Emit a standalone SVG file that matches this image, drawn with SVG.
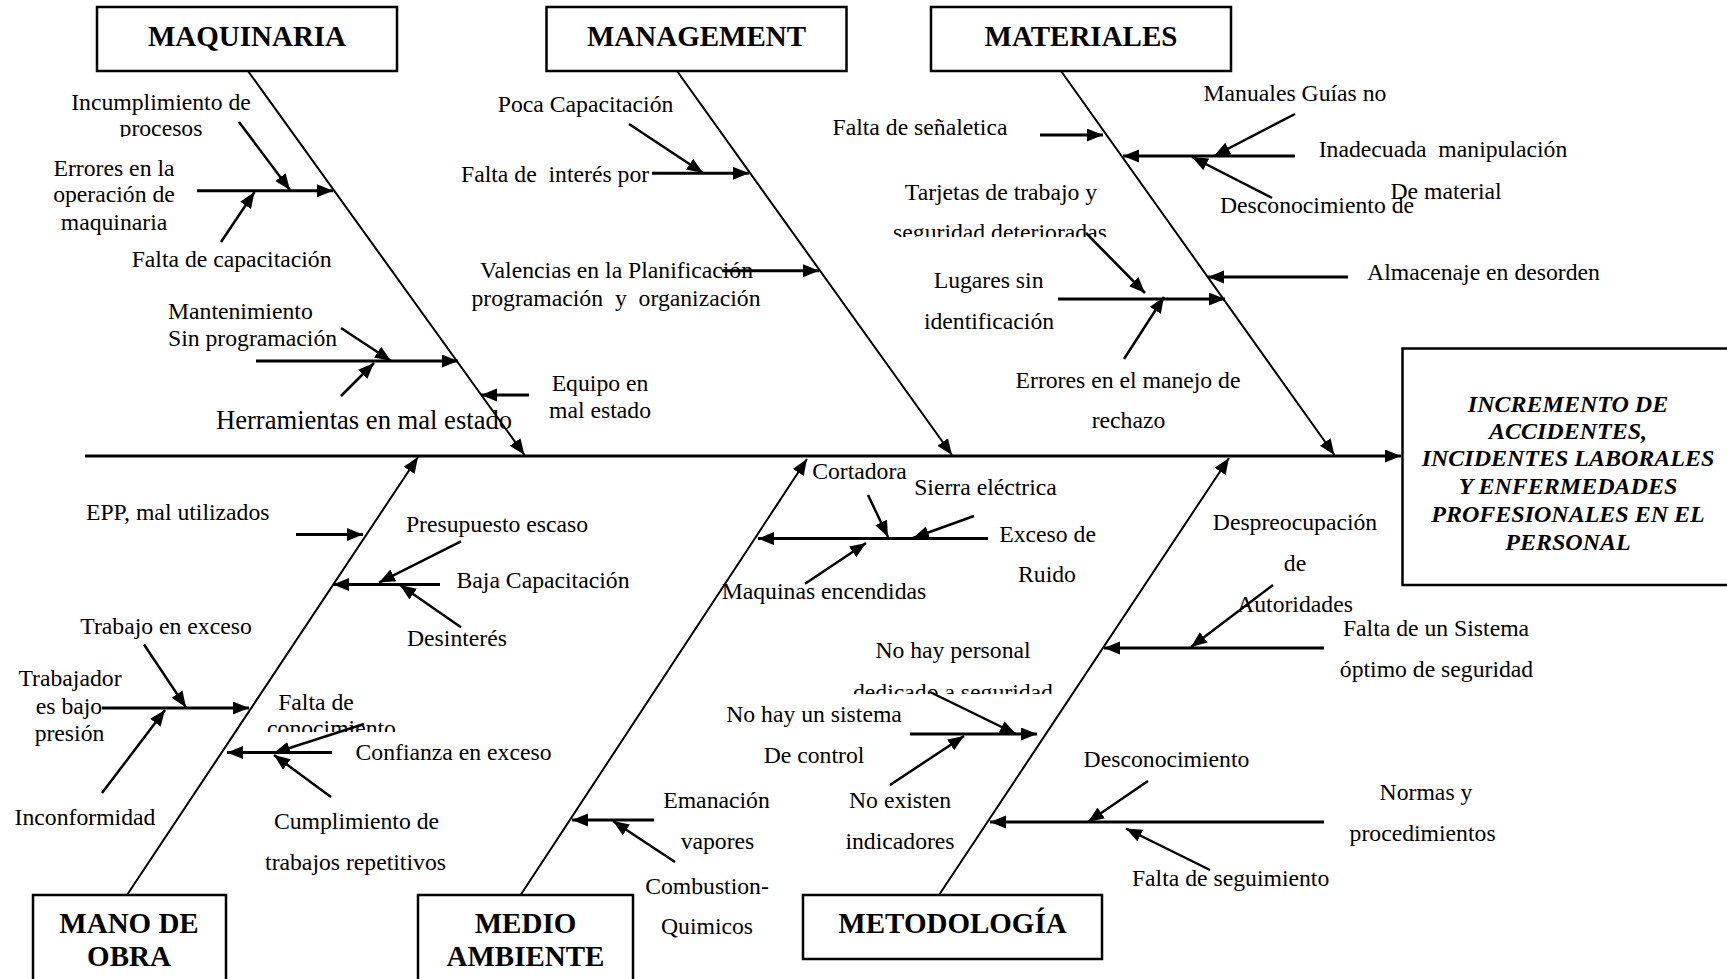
<svg xmlns="http://www.w3.org/2000/svg" width="1727" height="979" viewBox="0 0 1727 979">
<style>
.bx{fill:#fff;stroke:#000;stroke-width:2.5}
.hd{font-family:"Liberation Serif","Times New Roman",serif;font-weight:bold;font-size:29px;text-anchor:middle;fill:#000}
.ef{font-family:"Liberation Serif","Times New Roman",serif;font-weight:bold;font-style:italic;font-size:24px;text-anchor:middle;fill:#000}
.t{font-family:"Liberation Serif","Times New Roman",serif;font-size:23.7px;text-anchor:middle;fill:#000;white-space:pre}
.s{text-anchor:start}
.bone{stroke:#000;stroke-width:2;fill:none}
.br{stroke:#000;stroke-width:3;fill:none}
.sm{stroke:#000;stroke-width:2.5;fill:none}
</style>
<defs>
<marker id="ah" markerUnits="userSpaceOnUse" markerWidth="17" markerHeight="14" refX="16" refY="6.5" orient="auto">
<path d="M0,0 L16,6.5 L0,13 Z" fill="#000"/>
</marker>
<clipPath id="c1"><rect x="0" y="100" width="400" height="37"/></clipPath>
<clipPath id="c2"><rect x="850" y="200" width="300" height="37"/></clipPath>
<clipPath id="c3"><rect x="200" y="700" width="250" height="32"/></clipPath>
<clipPath id="c4"><rect x="800" y="660" width="300" height="34"/></clipPath>
</defs>
<rect width="1727" height="979" fill="#fff"/>

<g id="connectors">
<line class="br" x1="85" y1="456" x2="1401" y2="456" marker-end="url(#ah)"/>
<line class="bone" x1="248" y1="71" x2="524.5" y2="455" marker-end="url(#ah)"/>
<line class="bone" x1="677" y1="71" x2="952" y2="455" marker-end="url(#ah)"/>
<line class="bone" x1="1061" y1="71" x2="1334.5" y2="455" marker-end="url(#ah)"/>
<line class="bone" x1="127" y1="895" x2="418" y2="457" marker-end="url(#ah)"/>
<line class="bone" x1="520.6" y1="895" x2="807" y2="459" marker-end="url(#ah)"/>
<line class="bone" x1="939" y1="895" x2="1229" y2="458" marker-end="url(#ah)"/>

<line class="sm" x1="239" y1="122" x2="290" y2="190" marker-end="url(#ah)"/>
<line class="br" x1="197" y1="190.7" x2="333" y2="190.7" marker-end="url(#ah)"/>
<line class="sm" x1="221" y1="242" x2="254.5" y2="192" marker-end="url(#ah)"/>
<line class="sm" x1="341" y1="328" x2="391" y2="361" marker-end="url(#ah)"/>
<line class="br" x1="256" y1="361" x2="458" y2="361" marker-end="url(#ah)"/>
<line class="sm" x1="341" y1="396" x2="374" y2="363" marker-end="url(#ah)"/>
<line class="br" x1="529" y1="395" x2="481" y2="395" marker-end="url(#ah)"/>

<line class="sm" x1="629" y1="124" x2="703" y2="173" marker-end="url(#ah)"/>
<line class="br" x1="652" y1="173.3" x2="749" y2="173.3" marker-end="url(#ah)"/>
<line class="br" x1="722" y1="270.7" x2="819" y2="270.7" marker-end="url(#ah)"/>

<line class="br" x1="1040" y1="135" x2="1103" y2="135" marker-end="url(#ah)"/>
<line class="sm" x1="1295" y1="114" x2="1214" y2="156" marker-end="url(#ah)"/>
<line class="br" x1="1295" y1="156" x2="1123" y2="156" marker-end="url(#ah)"/>
<line class="sm" x1="1272" y1="198" x2="1192" y2="157" marker-end="url(#ah)"/>
<line class="sm" x1="1086" y1="233" x2="1145" y2="293" marker-end="url(#ah)"/>
<line class="br" x1="1058" y1="299" x2="1225" y2="299" marker-end="url(#ah)"/>
<line class="sm" x1="1124" y1="359" x2="1164" y2="297" marker-end="url(#ah)"/>
<line class="br" x1="1348" y1="277" x2="1208" y2="277" marker-end="url(#ah)"/>

<line class="br" x1="296" y1="534.5" x2="363" y2="534.5" marker-end="url(#ah)"/>
<line class="sm" x1="461" y1="541.4" x2="379" y2="582.6" marker-end="url(#ah)"/>
<line class="br" x1="440" y1="584.4" x2="333" y2="584.4" marker-end="url(#ah)"/>
<line class="sm" x1="461" y1="627.3" x2="400" y2="585" marker-end="url(#ah)"/>
<line class="sm" x1="144" y1="644.5" x2="186" y2="707.4" marker-end="url(#ah)"/>
<line class="br" x1="102" y1="708" x2="249" y2="708" marker-end="url(#ah)"/>
<line class="sm" x1="102" y1="793" x2="165" y2="710" marker-end="url(#ah)"/>
<line class="sm" x1="364" y1="724" x2="274" y2="753" marker-end="url(#ah)"/>
<line class="br" x1="332" y1="752.5" x2="227" y2="752.5" marker-end="url(#ah)"/>
<line class="sm" x1="331" y1="797" x2="274" y2="755" marker-end="url(#ah)"/>

<line class="sm" x1="868" y1="495" x2="888" y2="537" marker-end="url(#ah)"/>
<line class="sm" x1="974" y1="516" x2="913" y2="538" marker-end="url(#ah)"/>
<line class="br" x1="988" y1="538.6" x2="758" y2="538.6" marker-end="url(#ah)"/>
<line class="sm" x1="805" y1="583.7" x2="866" y2="543" marker-end="url(#ah)"/>
<line class="br" x1="654" y1="820" x2="572" y2="820" marker-end="url(#ah)"/>
<line class="sm" x1="675" y1="862" x2="613" y2="821" marker-end="url(#ah)"/>

<line class="sm" x1="930" y1="692" x2="1016" y2="734" marker-end="url(#ah)"/>
<line class="br" x1="910" y1="734" x2="1037" y2="734" marker-end="url(#ah)"/>
<line class="sm" x1="890" y1="785" x2="964" y2="736" marker-end="url(#ah)"/>
<line class="sm" x1="1273" y1="585" x2="1191" y2="647" marker-end="url(#ah)"/>
<line class="br" x1="1324" y1="648" x2="1104" y2="648" marker-end="url(#ah)"/>
<line class="sm" x1="1148" y1="781" x2="1088" y2="822" marker-end="url(#ah)"/>
<line class="br" x1="1324" y1="822" x2="990" y2="822" marker-end="url(#ah)"/>
<line class="sm" x1="1210" y1="870" x2="1126" y2="828.5" marker-end="url(#ah)"/>
</g>

<g id="effect">
<rect class="bx" x="1402.5" y="348.5" width="340" height="236.5"/>
<text class="ef" x="1568" y="411.7">INCREMENTO DE</text>
<text class="ef" x="1568" y="438.5">ACCIDENTES,</text>
<text class="ef" x="1568" y="466">INCIDENTES LABORALES</text>
<text class="ef" x="1568" y="493.5">Y ENFERMEDADES</text>
<text class="ef" x="1568" y="522">PROFESIONALES EN EL</text>
<text class="ef" x="1568" y="550">PERSONAL</text>
</g>

<g id="cat-maquinaria">
<rect class="bx" x="97" y="7" width="300" height="64"/>
<text class="hd" x="247" y="46">MAQUINARIA</text>
</g>
<g id="cat-management">
<rect class="bx" x="546.5" y="7" width="300" height="64"/>
<text class="hd" x="696.5" y="46">MANAGEMENT</text>
</g>
<g id="cat-materiales">
<rect class="bx" x="931" y="7" width="300" height="64"/>
<text class="hd" x="1081" y="46">MATERIALES</text>
</g>
<g id="cat-mano-de-obra">
<rect class="bx" x="33" y="895" width="193" height="100"/>
<text class="hd" x="129" y="933">MANO DE</text>
<text class="hd" x="129" y="966">OBRA</text>
</g>
<g id="cat-medio-ambiente">
<rect class="bx" x="418" y="895" width="215" height="100"/>
<text class="hd" x="525.5" y="933">MEDIO</text>
<text class="hd" x="525.5" y="966">AMBIENTE</text>
</g>
<g id="cat-metodologia">
<rect class="bx" x="803" y="895" width="299" height="64"/>
<text class="hd" x="952.5" y="933">METODOLOGÍA</text>
</g>

<g id="causes-maquinaria">
<text class="t" x="161" y="110">Incumplimiento de</text>
<text class="t" x="161" y="136" clip-path="url(#c1)">procesos</text>
<text class="t" x="114" y="176">Errores en la</text>
<text class="t" x="114" y="202">operación de</text>
<text class="t" x="114" y="230">maquinaria</text>
<text class="t" x="231.6" y="267">Falta de capacitación</text>
<text class="t s" x="168" y="319">Mantenimiento</text>
<text class="t s" x="168" y="346">Sin programación</text>
<text class="t" x="364" y="429" style="font-size:26.6px">Herramientas en mal estado</text>
<text class="t" x="600" y="391">Equipo en</text>
<text class="t" x="600" y="418">mal estado</text>
</g>

<g id="causes-management">
<text class="t" x="585.6" y="112">Poca Capacitación</text>
<text class="t s" x="461" y="182">Falta de  interés por</text>
<text class="t" x="616.6" y="278">Valencias en la Planificación</text>
<text class="t" x="616" y="306">programación  y  organización</text>
</g>

<g id="causes-materiales">
<text class="t" x="920" y="135">Falta de señaletica</text>
<text class="t" x="1295" y="101">Manuales Guías no</text>
<text class="t" x="1443" y="157">Inadecuada  manipulación</text>
<text class="t" x="1446" y="199">De material</text>
<text class="t" x="1317" y="213">Desconocimiento de</text>
<text class="t" x="1001" y="200">Tarjetas de trabajo y</text>
<text class="t" x="1000" y="240" clip-path="url(#c2)">seguridad deterioradas</text>
<text class="t" x="988.6" y="288">Lugares sin</text>
<text class="t" x="989" y="329">identificación</text>
<text class="t" x="1483.5" y="280">Almacenaje en desorden</text>
<text class="t" x="1128" y="388">Errores en el manejo de</text>
<text class="t" x="1128.5" y="428">rechazo</text>
</g>

<g id="causes-mano-de-obra">
<text class="t" x="177.7" y="520">EPP, mal utilizados</text>
<text class="t" x="497" y="532">Presupuesto escaso</text>
<text class="t" x="543" y="588">Baja Capacitación</text>
<text class="t" x="457" y="646">Desinterés</text>
<text class="t" x="166" y="634">Trabajo en exceso</text>
<text class="t" x="70" y="686">Trabajador</text>
<text class="t" x="69" y="713.5">es bajo</text>
<text class="t" x="69.5" y="741">presión</text>
<text class="t" x="85" y="824.5">Inconformidad</text>
<text class="t" x="316" y="710">Falta de</text>
<text class="t" x="331.5" y="736" clip-path="url(#c3)">conocimiento</text>
<text class="t" x="453.5" y="760">Confianza en exceso</text>
<text class="t" x="356.5" y="829">Cumplimiento de</text>
<text class="t" x="355.5" y="870">trabajos repetitivos</text>
</g>

<g id="causes-medio-ambiente">
<text class="t" x="859.5" y="479">Cortadora</text>
<text class="t" x="985.5" y="495">Sierra eléctrica</text>
<text class="t" x="1047.6" y="541.5">Exceso de</text>
<text class="t" x="1047" y="582">Ruido</text>
<text class="t" x="824" y="598.5">Maquinas encendidas</text>
<text class="t" x="716.5" y="808">Emanación</text>
<text class="t" x="717.5" y="849">vapores</text>
<text class="t" x="707" y="894">Combustion-</text>
<text class="t" x="707" y="934">Quimicos</text>
</g>

<g id="causes-metodologia">
<text class="t" x="953" y="658">No hay personal</text>
<text class="t" x="953" y="700" clip-path="url(#c4)">dedicado a seguridad</text>
<text class="t" x="814" y="722">No hay un sistema</text>
<text class="t" x="814" y="763">De control</text>
<text class="t" x="900" y="808">No existen</text>
<text class="t" x="900" y="849">indicadores</text>
<text class="t" x="1295" y="530">Despreocupación</text>
<text class="t" x="1295" y="571">de</text>
<text class="t" x="1295" y="612">Autoridades</text>
<text class="t" x="1436" y="636">Falta de un Sistema</text>
<text class="t" x="1436.5" y="677">óptimo de seguridad</text>
<text class="t" x="1166.5" y="766.5">Desconocimiento</text>
<text class="t" x="1426" y="799.5">Normas y</text>
<text class="t" x="1422.6" y="840.5">procedimientos</text>
<text class="t" x="1230.6" y="885.5">Falta de seguimiento</text>
</g>
</svg>
